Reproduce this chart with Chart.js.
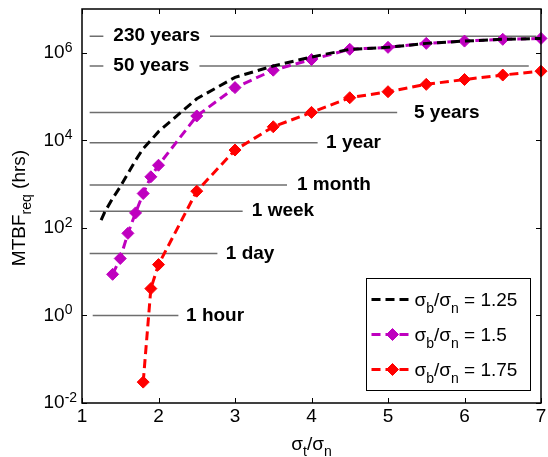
<!DOCTYPE html>
<html>
<head>
<meta charset="utf-8">
<script src="https://cdn.jsdelivr.net/npm/chart.js@4.4.1/dist/chart.umd.min.js"></script>
<style>
  body { margin: 0; background: #fff; }
  canvas { display: block; }
</style>
</head>
<body>
<canvas id="mtbfChart" width="548" height="457"></canvas>
<script>
// sigma_t / sigma_n values and required MTBF (hrs)
const sigmaRatios = ['1.25', '1.5', '1.75'];

const xBlack = [1.25, 1.3, 1.4, 1.5, 1.6, 1.7, 1.8, 1.9, 2.0, 2.5, 3, 3.5, 4, 4.5, 5, 5.5, 6, 6.5, 7];
const mtbfBlack = [150, 235, 470, 870, 1750, 3500, 6500, 10000, 15800, 89000, 275000, 500000, 800000,
                   1.2e6, 1.33e6, 1.64e6, 1.85e6, 2.03e6, 2.13e6];

const xMagenta = [1.4, 1.5, 1.6, 1.7, 1.8, 1.9, 2.0, 2.5, 3, 3.5, 4, 4.5, 5, 5.5, 6, 6.5, 7];
const mtbfMagenta = [8.7, 20, 75, 220, 610, 1470, 2700, 36000, 160000, 400000, 700000,
                     1.2e6, 1.33e6, 1.64e6, 1.85e6, 2.03e6, 2.13e6];

const xRed = [1.8, 1.9, 2.0, 2.5, 3, 3.5, 4, 4.5, 5, 5.5, 6, 6.5, 7];
const mtbfRed = [0.03, 4.1, 14.5, 690, 6000, 20400, 43500, 94000, 129000, 190000, 245000, 310000, 380000];

// horizontal reference lines (hours) with their x extent and label x
const refNames = ['230 years', '50 years', '5 years', '1 year', '1 month', '1 week', '1 day', '1 hour'];
const refHours = [2.4e6, 5.0e5, 4.3e4, 8.8e3, 950, 240, 26, 1];
const refStart = [1.1, 1.1, 1.1, 1.1, 1.1, 1.1, 1.1, 1.14];
const refEnd = [6.94, 6.84, 5.12, 4.08, 3.68, 3.1, 2.77, 2.26];
const refLabelX = [1.41, 1.41, 5.34, 4.19, 3.81, 3.22, 2.88, 2.36];

const xTicks = [1, 2, 3, 4, 5, 6, 7];
const yTicks = [1e-2, 1e0, 1e2, 1e4, 1e6];
const yTickExp = ['-2', '0', '2', '4', '6'];

const chartFont = '"Liberation Sans", Arial, Helvetica, sans-serif';
const mainFont = '19px ' + chartFont;
const subFont = '14px ' + chartFont;

function seriesData(xs, ys) {
    return xs.map((x, i) => ({ x: x, y: ys[i] }));
}

// draw a list of text runs (for sub/superscripts), left aligned on a baseline
function runsWidth(ctx, runs) {
    let w = 0;
    runs.forEach(r => { ctx.font = r.font; w += ctx.measureText(r.text).width; });
    return w;
}
function drawRuns(ctx, runs, x, y) {
    ctx.textAlign = 'left';
    ctx.textBaseline = 'alphabetic';
    runs.forEach(r => {
        ctx.font = r.font;
        ctx.fillText(r.text, x, y + (r.dy || 0));
        x += ctx.measureText(r.text).width;
    });
}

const datasets = [
    {
        label: 'sb/sn = 1.25',
        data: seriesData(xBlack, mtbfBlack),
        borderColor: '#000000',
        borderWidth: 3,
        borderDash: [9, 5],
        pointRadius: 0,
        clip: 10
    },
    {
        label: 'sb/sn = 1.5',
        data: seriesData(xMagenta, mtbfMagenta),
        borderColor: '#bf00bf',
        backgroundColor: '#bf00bf',
        borderWidth: 3,
        borderDash: [9, 5],
        pointStyle: 'rectRot',
        pointRadius: 6,
        pointBorderWidth: 1,
        pointBackgroundColor: '#bf00bf',
        pointBorderColor: '#bf00bf',
        clip: 10
    },
    {
        label: 'sb/sn = 1.75',
        data: seriesData(xRed, mtbfRed),
        borderColor: '#ff0000',
        backgroundColor: '#ff0000',
        borderWidth: 3,
        borderDash: [9, 5],
        pointStyle: 'rectRot',
        pointRadius: 6,
        pointBorderWidth: 1,
        pointBackgroundColor: '#ff0000',
        pointBorderColor: '#ff0000',
        clip: 10
    }
];

refNames.forEach((name, i) => {
    datasets.push({
        label: name,
        data: [{ x: refStart[i], y: refHours[i] }, { x: refEnd[i], y: refHours[i] }],
        borderColor: '#6e6e6e',
        borderWidth: 1.5,
        pointRadius: 0
    });
});

const axesPlugin = {
    id: 'axesPlugin',
    beforeDraw(chart) {
        const ctx = chart.ctx;
        ctx.save();
        ctx.fillStyle = '#ffffff';
        ctx.fillRect(0, 0, chart.width, chart.height);
        ctx.restore();
    },
    afterDatasetsDraw(chart) {
        const ctx = chart.ctx;
        const area = chart.chartArea;
        const xs = chart.scales.x;
        const ys = chart.scales.y;
        ctx.save();

        // reference line labels
        ctx.font = 'bold ' + mainFont;
        ctx.textAlign = 'left';
        ctx.textBaseline = 'middle';
        refNames.forEach((name, i) => {
            const tx = xs.getPixelForValue(refLabelX[i]);
            const ty = ys.getPixelForValue(refHours[i]);
            const w = ctx.measureText(name).width;
            if (xs.getPixelForValue(refEnd[i]) > tx) {
                ctx.fillStyle = '#ffffff';
                ctx.fillRect(tx - 10, ty - 9, w + 20, 18);
            }
            ctx.fillStyle = '#000000';
            ctx.fillText(name, tx, ty);
        });

        // axes box
        ctx.strokeStyle = '#000000';
        ctx.lineWidth = 1.5;
        ctx.strokeRect(area.left, area.top, area.right - area.left, area.bottom - area.top);

        // inward ticks on all four sides
        ctx.lineWidth = 1;
        ctx.beginPath();
        xTicks.forEach(v => {
            const px = Math.round(xs.getPixelForValue(v)) + 0.5;
            ctx.moveTo(px, area.bottom); ctx.lineTo(px, area.bottom - 5);
            ctx.moveTo(px, area.top); ctx.lineTo(px, area.top + 5);
        });
        yTicks.forEach(v => {
            const py = Math.round(ys.getPixelForValue(v)) + 0.5;
            ctx.moveTo(area.left, py); ctx.lineTo(area.left + 5, py);
            ctx.moveTo(area.right, py); ctx.lineTo(area.right - 5, py);
        });
        ctx.stroke();

        // tick labels
        ctx.fillStyle = '#000000';
        ctx.font = mainFont;
        ctx.textAlign = 'center';
        ctx.textBaseline = 'middle';
        xTicks.forEach(v => {
            ctx.fillText(String(v), xs.getPixelForValue(v), area.bottom + 13.5);
        });
        yTicks.forEach((v, i) => {
            const py = ys.getPixelForValue(v);
            const lx = area.left - 38.5;
            ctx.font = mainFont;
            ctx.textAlign = 'left';
            ctx.textBaseline = 'middle';
            ctx.fillText('10', lx, py);
            const w = ctx.measureText('10').width;
            ctx.font = subFont;
            ctx.textBaseline = 'alphabetic';
            ctx.fillText(yTickExp[i], lx + w, py - 1);
        });

        // x axis title
        const xRuns = [
            { text: 'σ', font: mainFont },
            { text: 't', font: subFont, dy: 6 },
            { text: '/σ', font: mainFont },
            { text: 'n', font: subFont, dy: 6 }
        ];
        const xw = runsWidth(ctx, xRuns);
        drawRuns(ctx, xRuns, (area.left + area.right) / 2 - xw / 2, area.bottom + 47);

        // y axis title (rotated)
        const yRuns = [
            { text: 'MTBF', font: mainFont },
            { text: 'req', font: subFont, dy: 6 },
            { text: ' (hrs)', font: mainFont }
        ];
        const yw = runsWidth(ctx, yRuns);
        ctx.save();
        ctx.translate(25, (area.top + area.bottom) / 2 + 2);
        ctx.rotate(-Math.PI / 2);
        drawRuns(ctx, yRuns, -yw / 2, 0);
        ctx.restore();

        // legend
        const boxL = area.right - 174.5, boxT = area.bottom - 124.5, boxW = 164, boxH = 112;
        ctx.fillStyle = '#ffffff';
        ctx.fillRect(boxL, boxT, boxW, boxH);
        ctx.strokeStyle = '#000000';
        ctx.lineWidth = 1;
        ctx.strokeRect(boxL, boxT, boxW, boxH);
        sigmaRatios.forEach((ratio, i) => {
            const ds = chart.data.datasets[i];
            const rowY = boxT + 21 + i * 35;
            ctx.save();
            ctx.strokeStyle = ds.borderColor;
            ctx.lineWidth = 3;
            ctx.setLineDash([9, 5]);
            ctx.beginPath();
            ctx.moveTo(boxL + 5, rowY);
            ctx.lineTo(boxL + 46, rowY);
            ctx.stroke();
            ctx.setLineDash([]);
            if (ds.pointRadius > 0) {
                ctx.fillStyle = ds.pointBackgroundColor;
                ctx.strokeStyle = ds.pointBorderColor;
                ctx.lineWidth = 1;
                Chart.helpers.drawPoint(ctx, { pointStyle: 'rectRot', radius: 6, borderWidth: 1, rotation: 0 }, boxL + 26, rowY);
            }
            ctx.restore();
            ctx.fillStyle = '#000000';
            drawRuns(ctx, [
                { text: 'σ', font: mainFont },
                { text: 'b', font: subFont, dy: 7 },
                { text: '/σ', font: mainFont },
                { text: 'n', font: subFont, dy: 7 },
                { text: ' = ' + ratio, font: mainFont }
            ], boxL + 48, rowY + 6);
        });

        ctx.restore();
    }
};

new Chart(document.getElementById('mtbfChart').getContext('2d'), {
    type: 'line',
    data: { datasets: datasets },
    options: {
        responsive: false,
        animation: false,
        events: [],
        layout: { padding: { left: 82, right: 3, top: 9, bottom: 54 } },
        elements: { line: { tension: 0, fill: false } },
        scales: {
            x: { type: 'linear', min: 1, max: 7, display: false },
            y: { type: 'logarithmic', min: 1e-2, max: 1e7, display: false }
        },
        plugins: {
            legend: { display: false },
            tooltip: { enabled: false }
        }
    },
    plugins: [axesPlugin]
});
</script>
</body>
</html>
